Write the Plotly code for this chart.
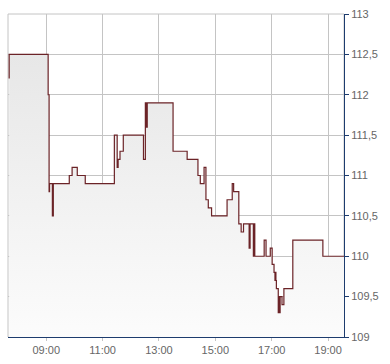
import plotly.graph_objects as go

DAY = "2024-03-15 "

times = [
    "07:41", "07:41", "09:04", "09:06", "09:07", "09:13", "09:15", "09:49", "09:55",
    "10:06", "10:23", "11:25", "11:31", "11:33", "11:37", "11:44", "12:27",
    "12:31", "12:32", "12:33", "12:34", "12:35", "12:36",
    "13:30", "14:00", "14:23", "14:28", "14:36", "14:40", "14:45", "14:52",
    "15:25", "15:36", "15:39", "15:50", "15:55", "16:00", "16:12", "16:14",
    "16:21", "16:22", "16:24", "16:44", "16:48", "16:57", "17:01", "17:05",
    "17:07", "17:08", "17:09", "17:10", "17:14", "17:15", "17:16", "17:18",
    "17:22", "17:26", "17:45", "18:49", "19:34",
]
prices = [
    112.2, 112.5, 112.0, 110.8, 110.9, 110.5, 110.9, 111.0, 111.1,
    111.0, 110.9, 111.5, 111.1, 111.2, 111.3, 111.5, 111.2,
    111.9, 111.6, 111.9, 111.6, 111.9, 111.9,
    111.3, 111.2, 111.0, 110.9, 111.1, 110.7, 110.6, 110.5,
    110.7, 110.9, 110.8, 110.4, 110.3, 110.4, 110.1, 110.4,
    110.0, 110.4, 110.0, 110.2, 110.0, 110.1, 109.9, 109.8,
    109.7, 109.8, 109.7, 109.6, 109.3, 109.5, 109.3, 109.5,
    109.4, 109.6, 110.2, 110.0, 110.0,
]

y_ticks = [109, 109.5, 110, 110.5, 111, 111.5, 112, 112.5, 113]
y_tick_labels = ["109", "109,5", "110", "110,5", "111", "111,5", "112", "112,5", "113"]
x_ticks = ["09:00", "11:00", "13:00", "15:00", "17:00", "19:00"]
x_range = ["07:38:30", "19:34:00"]

x = [DAY + t for t in times]

fig = go.Figure()
fig.add_trace(go.Scatter(
    x=x, y=prices, mode="lines", line=dict(color="#6b2327", width=1.2, shape="hv"),
    fill="tozeroy",
    fillgradient=dict(type="vertical", start=109, stop=113,
                      colorscale=[[0, "#fcfcfc"], [1, "#e4e4e4"]]),
    hoverinfo="skip", showlegend=False,
))

fig.update_layout(
    width=390, height=364,
    margin=dict(l=8, r=46, t=11, b=26),
    paper_bgcolor="white", plot_bgcolor="white",
    font=dict(family="Liberation Sans, Arial, sans-serif", size=11, color="#666666"),
    shapes=[dict(type="rect", xref="paper", yref="paper", x0=0, x1=1, y0=0, y1=1,
                 line=dict(color="#c4c4c4", width=1), layer="below")],
)
fig.update_xaxes(
    type="date", range=[DAY + x_range[0], DAY + x_range[1]],
    tickvals=[DAY + t for t in x_ticks], ticktext=x_ticks,
    showgrid=True, gridcolor="#c4c4c4", gridwidth=1,
    showline=True, linecolor="#1d3c6e", linewidth=1,
    ticks="outside", ticklen=3, tickcolor="#c4c4c4",
    zeroline=False, fixedrange=True,
)
fig.update_yaxes(
    side="right", range=[109, 113],
    tickvals=y_ticks, ticktext=y_tick_labels,
    showgrid=True, gridcolor="#c4c4c4", gridwidth=1,
    showline=True, linecolor="#1d3c6e", linewidth=1,
    ticks="outside", ticklen=4, tickcolor="#1d3c6e",
    zeroline=False, fixedrange=True,
)

fig.write_html("out.html", config={"displayModeBar": False})
